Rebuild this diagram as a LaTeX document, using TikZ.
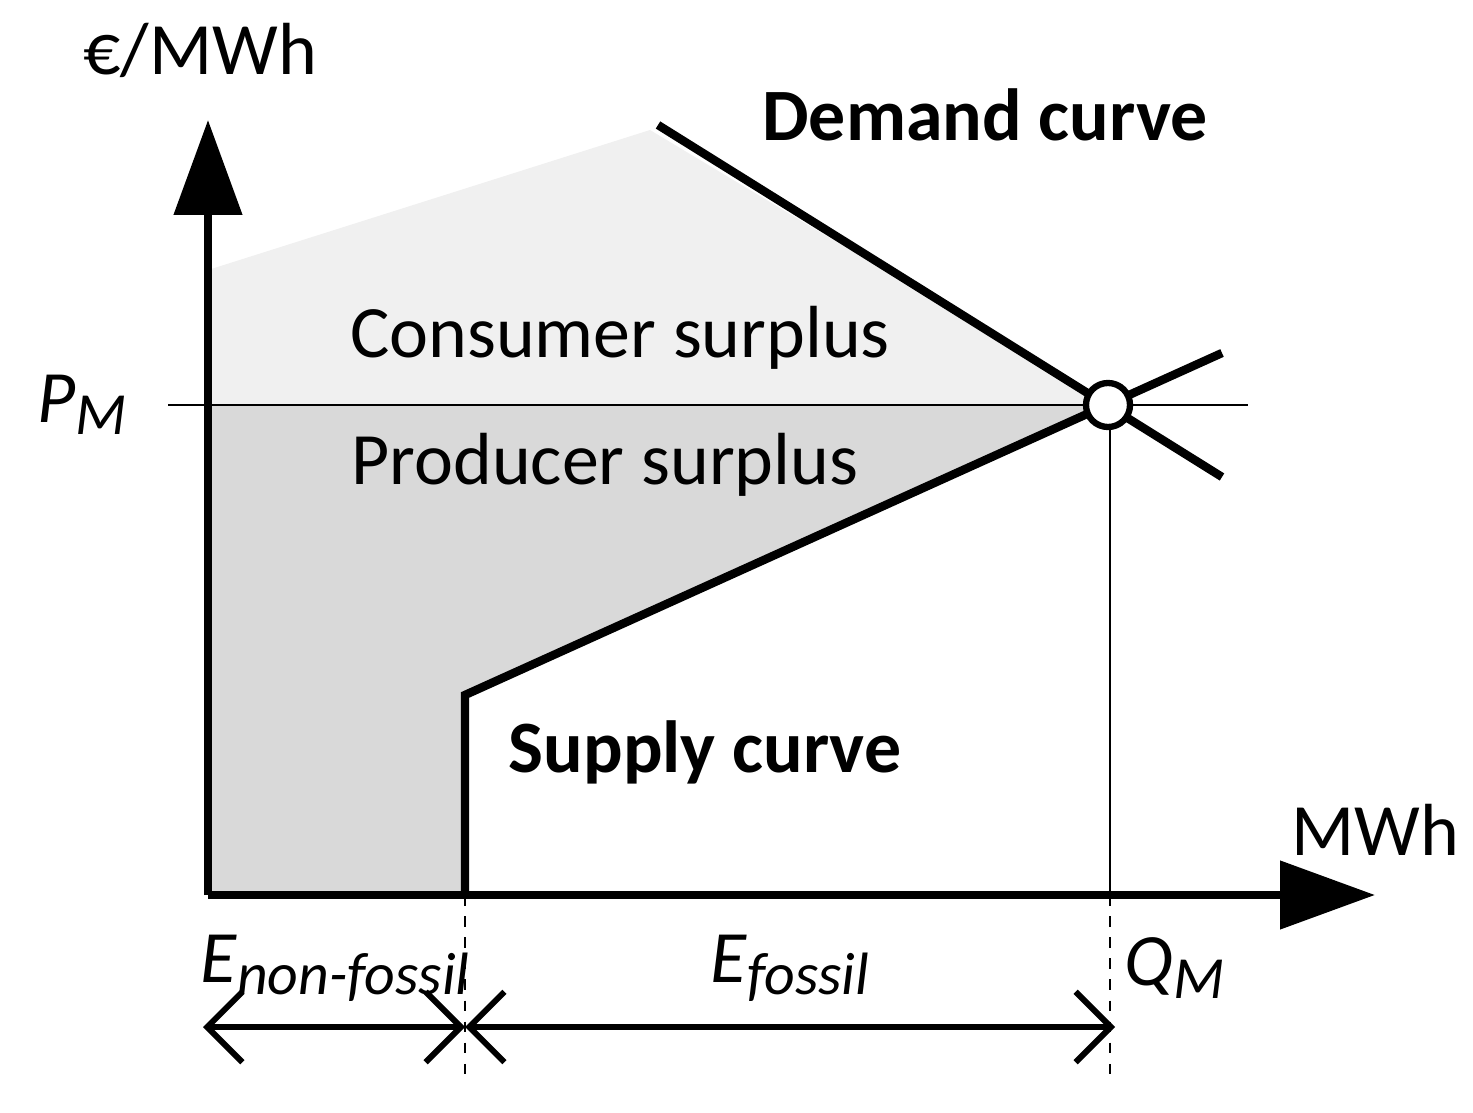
\documentclass[tikz,border=0pt]{standalone}
\usepackage{fontspec}
\setmainfont{Carlito}
\usetikzlibrary{arrows.meta}
\newcommand{\sub}[2]{\textit{#1}\raisebox{-0.35ex}{\fontsize{17}{20}\selectfont\textit{#2}}}
\begin{document}
\begin{tikzpicture}[x=0.01cm,y=-0.01cm,
  thickline/.style={line width=2.4pt},
  thinline/.style={line width=0.5pt},
  lbl/.style={font=\fontsize{21}{25}\selectfont, inner sep=0pt},
  blbl/.style={font=\fontsize{21}{25}\selectfont\bfseries, inner sep=0pt},
  dim/.style={line width=1.7pt, {Straight Barb[length=10pt,width=20pt,line width=1.7pt]}-{Straight Barb[length=10pt,width=20pt,line width=1.7pt]}}]
\useasboundingbox (0,0) rectangle (1473,1113);
% areas
\fill[gray!12] (208,270) -- (650,130) -- (1108,405) -- (208,405) -- cycle;
\fill[gray!30] (208,405) -- (1108,405) -- (465,695) -- (465,895) -- (208,895) -- cycle;
% coordinates
\coordinate (o) at (208,895);
\coordinate (ytip) at (208,120);
\coordinate (xtip) at (1375,895);
\coordinate (d1) at (658,125);
\coordinate (d2) at (1222,477);
\coordinate (s0) at (465,895);
\coordinate (s1) at (465,695);
\coordinate (s2) at (1222,353);
\coordinate (p1) at (168,405);
\coordinate (p2) at (1248,405);
\coordinate (qa) at (1110,895);
\coordinate (qb) at (1110,1080);
\coordinate (ea) at (465,895);
\coordinate (eb) at (465,1080);
\coordinate (a1) at (203,1027);
\coordinate (a2) at (465,1027);
\coordinate (a3) at (1115,1027);
% lines
\draw[thinline] (p1) -- (p2);
\draw[thinline] (1110,405) -- (qa);
\draw[thinline,dashed] (qa) -- (qb);
\draw[thinline,dashed] (ea) -- (eb);
\draw[thickline] (d1) -- (d2);
\draw[thickline] (s0) -- (s1) -- (s2);
\draw[thickline,-{Triangle[length=27pt,width=19pt]}] (o) -- (ytip);
\draw[thickline,-{Triangle[length=27pt,width=19pt]}] (o) -- (xtip);
\node[circle,draw,line width=1.8pt,fill=white,minimum size=0.44cm,inner sep=0pt] (eq) at (1108,405) {};
\draw[dim] (a1) -- (a2);
\draw[dim] (a2) -- (a3);
% labels
\node[lbl] (ylab) at (200,50) {€/MWh};
\node[lbl] (xlab) at (1375,830) {MWh};
\node[blbl] (dem) at (985,115) {Demand curve};
\node[blbl] (sup) at (705,752) {Supply curve};
\node[lbl] (cs) at (620,338) {Consumer surplus};
\node[lbl] (ps) at (605,465) {Producer surplus};
\node[lbl] (pm) at (82,405) {\sub{P}{M}};
\node[lbl] (enf) at (335,968) {\sub{E}{non-fossil}};
\node[lbl] (ef) at (790,968) {\sub{E}{fossil}};
\node[lbl] (qm) at (1175,968) {\sub{Q}{M}};
\end{tikzpicture}
\end{document}
